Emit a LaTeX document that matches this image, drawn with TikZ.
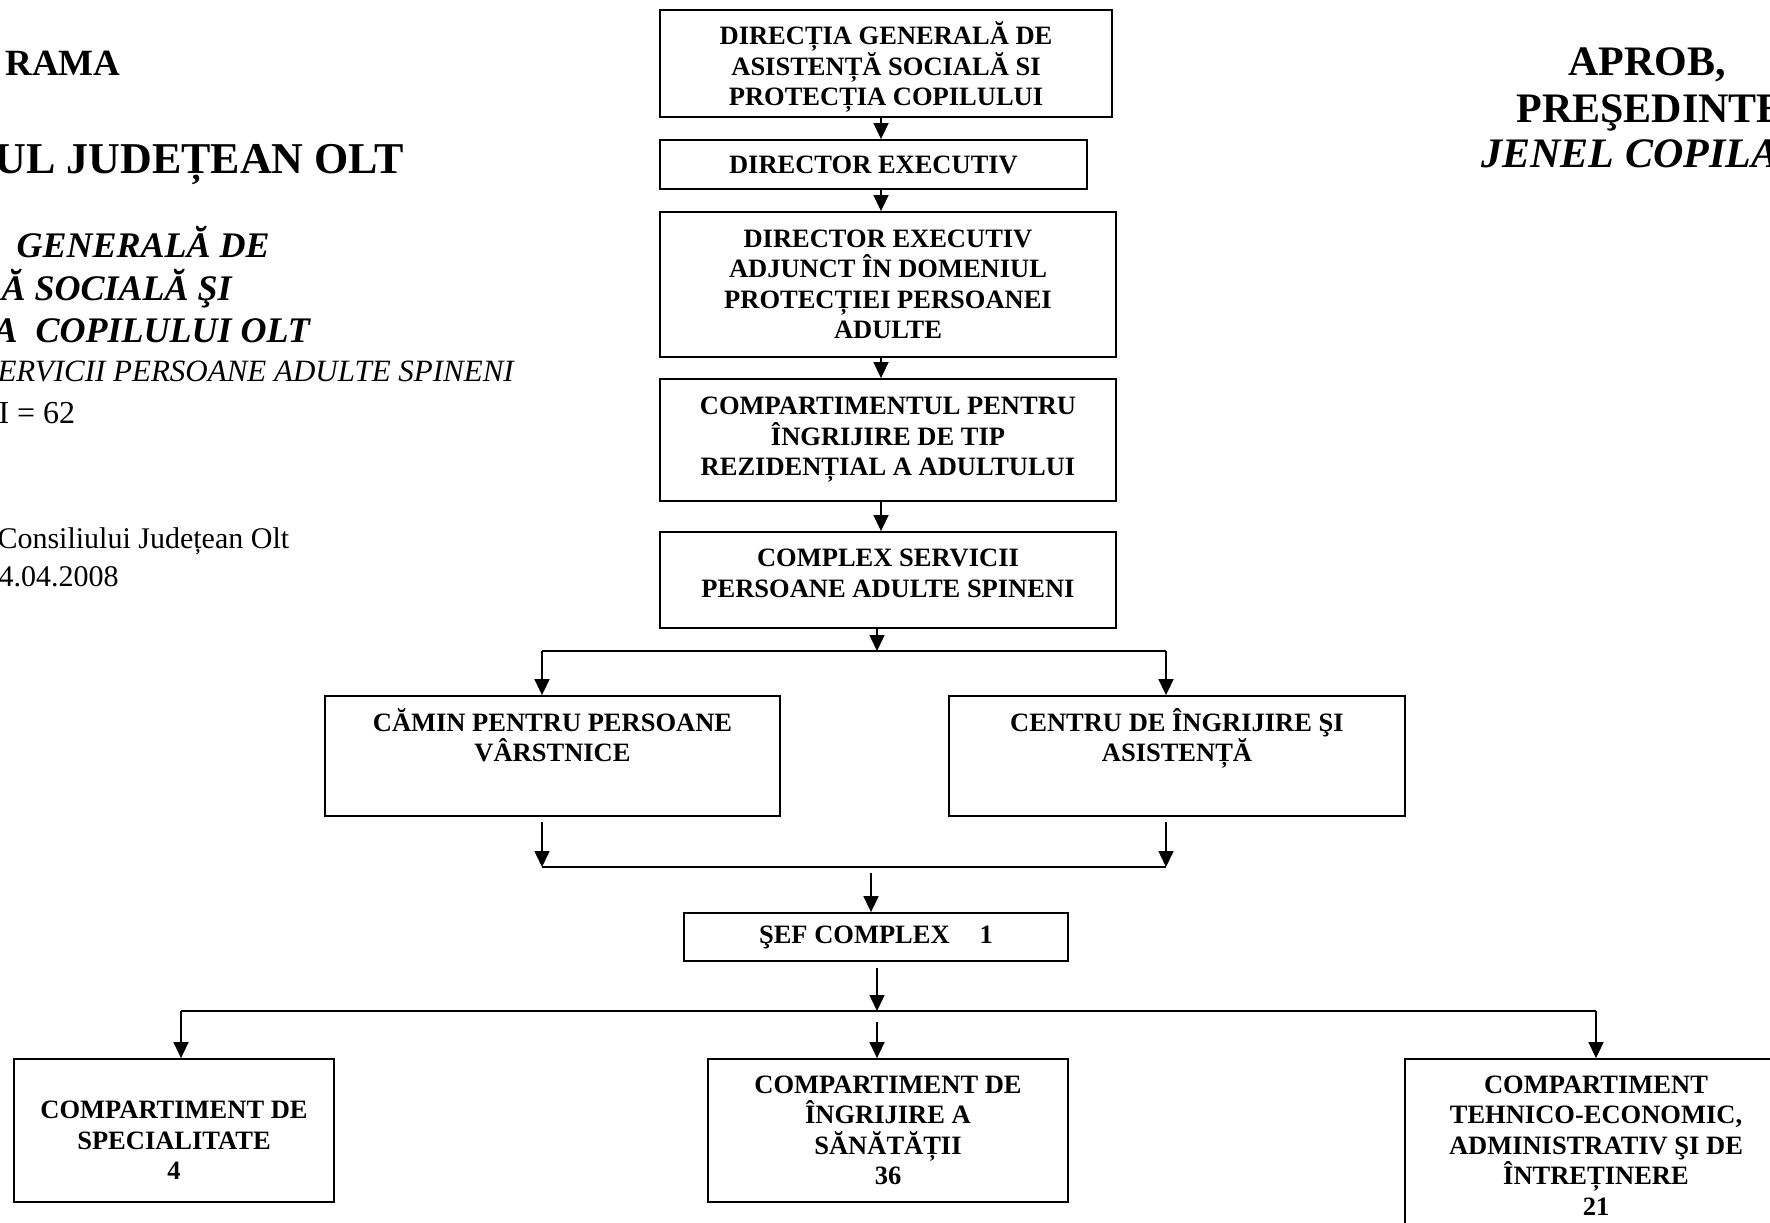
\documentclass[tikz,border=0pt]{standalone}
\usepackage{fontspec}
\setmainfont{Liberation Serif}
\usetikzlibrary{arrows.meta}

\begin{document}
\begin{tikzpicture}[x=1pt, y=-1pt,
	box/.style={draw, line width=1.8pt, inner sep=0pt, align=center, font=\bfseries\fontsize{26.5}{30.5}\selectfont},
	arr/.style={line width=1.6pt, -{Triangle[length=16pt,width=15pt]}},
	conn/.style={line width=1.6pt}]
\useasboundingbox (0,0) rectangle (1770,1223);

\node[anchor=base west, font=\bfseries\fontsize{37}{42}\selectfont] (h1) at (2,75) {RAMA};
\node[anchor=base west, font=\bfseries\fontsize{44}{50}\selectfont] (h2) at (-9,173) {UL JUDEȚEAN OLT};
\node[anchor=base west, font=\bfseries\itshape\fontsize{36}{41}\selectfont] (h3) at (13,257) {GENERALĂ DE};
\node[anchor=base west, font=\bfseries\itshape\fontsize{36}{41}\selectfont] (h4) at (-2,300) {Ă SOCIALĂ ŞI};
\node[anchor=base west, font=\bfseries\itshape\fontsize{36}{41}\selectfont] (h5) at (-10,342) {A\ \ COPILULUI OLT};
\node[anchor=base west, font=\itshape\fontsize{31}{36}\selectfont] (h6) at (-6,381) {ERVICII PERSOANE ADULTE SPINENI};
\node[anchor=base west, font=\fontsize{32}{37}\selectfont] (h7) at (-5,423) {I = 62};
\node[anchor=base west, font=\fontsize{30}{35}\selectfont] (h8) at (-6,548) {Consiliului Județean Olt};
\node[anchor=base west, font=\fontsize{30}{35}\selectfont] (h9) at (-5,586) {4.04.2008};

\node[anchor=base west, font=\bfseries\fontsize{42}{48}\selectfont] (ap1) at (1565,75) {APROB,};
\node[anchor=base west, font=\bfseries\fontsize{42}{48}\selectfont] (ap2) at (1513,122) {PREŞEDINTE};
\node[anchor=base west, font=\bfseries\itshape\fontsize{42}{48}\selectfont] (ap3) at (1478,167) {JENEL COPILA};

\node[box, minimum width=452, minimum height=107] (dgaspc) at (886,63.5) {\rule{0pt}{30pt}DIRECȚIA GENERALĂ DE\\ASISTENȚĂ SOCIALĂ SI\\PROTECȚIA COPILULUI};
\node[box, minimum width=427, minimum height=49] (direx) at (873.5,164.5) {DIRECTOR EXECUTIV};
\node[box, minimum width=456, minimum height=145] (diradj) at (888,284.5) {DIRECTOR EXECUTIV\\ADJUNCT ÎN DOMENIUL\\PROTECȚIEI PERSOANEI\\ADULTE};
\node[box, minimum width=456, minimum height=122] (comprez) at (888,440) {COMPARTIMENTUL PENTRU\\ÎNGRIJIRE DE TIP\\REZIDENȚIAL A ADULTULUI};
\node[box, minimum width=456, minimum height=96] (complex) at (888,580) {COMPLEX SERVICII\\PERSOANE ADULTE SPINENI\rule[-13.5pt]{0pt}{13.5pt}};

\node[box, minimum width=455, minimum height=120] (camin) at (552.5,756) {CĂMIN PENTRU PERSOANE\\VÂRSTNICE\rule[-42pt]{0pt}{42pt}};
\node[box, minimum width=456, minimum height=120] (centru) at (1177,756) {CENTRU DE ÎNGRIJIRE ŞI\\ASISTENȚĂ\rule[-42pt]{0pt}{42pt}};

\node[box, minimum width=384, minimum height=48] (sef) at (876,937) {ŞEF COMPLEX\hspace{30pt}1};

\node[box, minimum width=320, minimum height=143] (spec) at (174,1130.5) {\rule{0pt}{37.5pt}COMPARTIMENT DE\\SPECIALITATE\\4};
\node[box, minimum width=360, minimum height=143] (sanat) at (888,1130.5) {COMPARTIMENT DE\\ÎNGRIJIRE A\\SĂNĂTĂȚII\\36};
\node[box, minimum width=382, minimum height=173] (tehnic) at (1596,1145.5) {COMPARTIMENT\\TEHNICO-ECONOMIC,\\ADMINISTRATIV ŞI DE\\ÎNTREȚINERE\\21};

\coordinate (ch) at (881,0);
\coordinate (j1) at (877,651);
\coordinate (j1l) at (542,651);
\coordinate (j1r) at (1166,651);
\coordinate (j2) at (871,867);
\coordinate (j2l) at (542,867);
\coordinate (j2r) at (1166,867);
\coordinate (j3) at (877,1011);
\coordinate (j3l) at (181,1011);
\coordinate (j3r) at (1596,1011);

\draw[arr] (dgaspc.south -| ch) -- (direx.north -| ch);
\draw[arr] (direx.south -| ch) -- (diradj.north -| ch);
\draw[arr] (diradj.south -| ch) -- (comprez.north -| ch);
\draw[arr] (comprez.south -| ch) -- (complex.north -| ch);

\draw[arr] (complex.south -| j1) -- (j1);
\draw[conn] (j1l) -- (j1r);
\draw[arr] (j1l) -- (j1l |- camin.north);
\draw[arr] (j1r) -- (j1r |- centru.north);

\draw[arr] ([yshift=-5pt]camin.south -| j2l) -- (j2l);
\draw[arr] ([yshift=-5pt]centru.south -| j2r) -- (j2r);
\draw[conn] (j2l) -- (j2r);
\draw[arr] ([yshift=-6pt]j2) -- (j2 |- sef.north);

\draw[arr] ([yshift=-6pt]sef.south -| j3) -- (j3);
\draw[conn] (j3l) -- (j3r);
\draw[arr] (j3l) -- (j3l |- spec.north);
\draw[arr] ([yshift=-11pt]j3) -- (j3 |- sanat.north);
\draw[arr] (j3r) -- (j3r |- tehnic.north);
\end{tikzpicture}
\end{document}
